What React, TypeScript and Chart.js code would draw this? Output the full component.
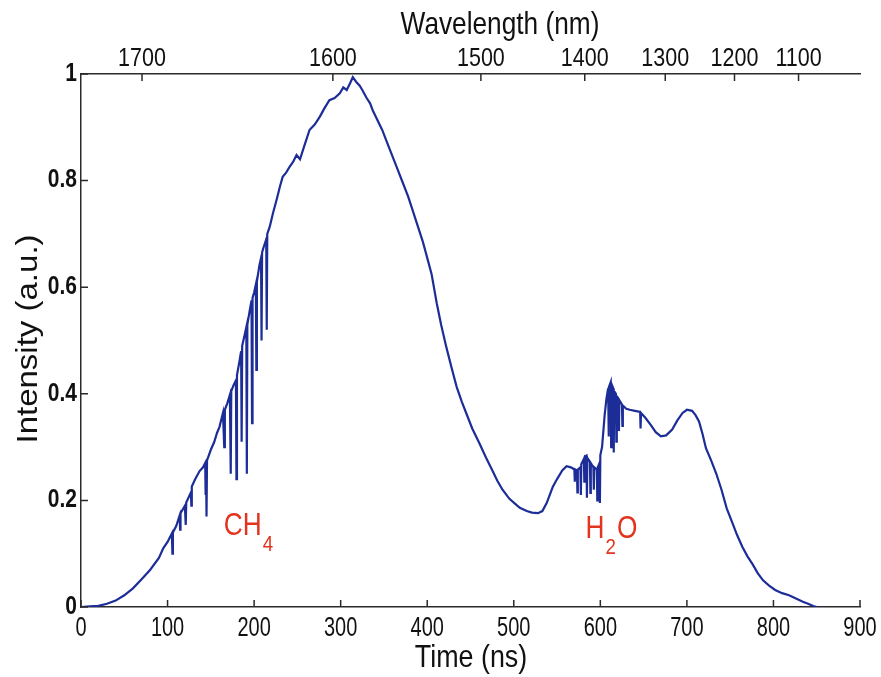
import React, { useEffect, useRef } from 'react';
import { Chart, registerables } from 'chart.js';
Chart.register(...registerables);

// ---- Data ----
const timeNs = [
  0, 10, 20, 30, 40, 50, 60, 70, 80, 90, 95, 100,
  105, 105.6, 106.2, 110, 114, 114.5, 115, 120, 121, 121.6, 127, 127.5, 128,
  132, 137, 141, 143.5, 144, 144.5, 145, 145.6, 150, 154, 157, 160,
  164, 165.5, 166.2, 169, 172, 173, 173.6, 176, 179, 179.6, 180.2,
  183, 185, 185.6, 186.2, 189, 191, 191.6, 192.2, 195, 197, 197.6, 198.2,
  200, 202, 202.6, 203.2, 206, 208, 208.6, 209.2, 211, 214, 214.6, 215.2,
  218, 222, 226, 230, 233, 237, 241, 245, 249, 253, 258, 264, 270, 276, 281,
  287, 293, 299, 303, 307, 311, 314, 318, 322, 325, 330, 334, 337, 342, 348,
  354, 360, 366, 372, 378, 383, 389, 395, 400, 405, 411, 416, 422, 428, 434,
  440, 445, 452, 460, 468, 475, 481, 487, 495, 502, 507, 515, 521, 528, 533,
  538, 545, 550, 556, 561, 566, 570, 570.5, 571, 573, 573.5, 574, 577, 577.5,
  578, 581, 581.5, 582, 584, 584.5, 585, 588, 588.5, 589, 592, 592.5, 593,
  596, 596.5, 597, 599, 599.5, 600, 602, 605, 607, 609, 609.5, 610, 612,
  612.5, 613, 615, 615.5, 616, 618, 618.5, 619, 621, 621.5, 622, 625, 625.5,
  626, 630, 634, 640, 646, 646.5, 647, 652, 658, 664, 670, 676, 683, 689,
  695, 700, 706, 710, 714, 718, 722, 728, 734, 740, 746, 752, 758, 764, 770,
  776, 782, 788, 795, 802, 810, 818, 826, 834, 840, 846, 850,
];
const intensity = [
  0, 0.001, 0.002, 0.006, 0.012, 0.022, 0.035, 0.052, 0.07, 0.092, 0.11, 0.122,
  0.138, 0.1, 0.14, 0.152, 0.172, 0.145, 0.176, 0.19, 0.154, 0.196, 0.215, 0.19, 0.226,
  0.24, 0.255, 0.262, 0.27, 0.21, 0.265, 0.17, 0.275, 0.295, 0.31, 0.326, 0.338,
  0.364, 0.3, 0.37, 0.382, 0.398, 0.25, 0.405, 0.415, 0.425, 0.24, 0.435,
  0.46, 0.48, 0.31, 0.49, 0.51, 0.525, 0.25, 0.53, 0.557, 0.575, 0.345, 0.58,
  0.59, 0.605, 0.445, 0.61, 0.64, 0.655, 0.5, 0.665, 0.675, 0.69, 0.52, 0.7,
  0.713, 0.74, 0.764, 0.79, 0.807, 0.815, 0.826, 0.835, 0.848, 0.84, 0.865, 0.895, 0.905, 0.92, 0.935,
  0.951, 0.955, 0.964, 0.975, 0.97, 0.983, 0.994, 0.985, 0.978, 0.97, 0.955, 0.945, 0.932, 0.915, 0.895,
  0.87, 0.845, 0.82, 0.795, 0.77, 0.745, 0.715, 0.685, 0.655, 0.625, 0.57, 0.53, 0.488, 0.45, 0.413,
  0.385, 0.364, 0.335, 0.308, 0.28, 0.257, 0.237, 0.22, 0.203, 0.193, 0.186, 0.18, 0.177, 0.176, 0.18,
  0.195, 0.225, 0.24, 0.256, 0.264, 0.262, 0.258, 0.235, 0.258, 0.256, 0.215, 0.258, 0.262, 0.21,
  0.268, 0.278, 0.235, 0.282, 0.284, 0.205, 0.28, 0.272, 0.214, 0.27, 0.262, 0.22, 0.262,
  0.258, 0.2, 0.262, 0.27, 0.195, 0.285, 0.3, 0.36, 0.39, 0.41, 0.32, 0.412, 0.422,
  0.3, 0.418, 0.41, 0.29, 0.405, 0.4, 0.31, 0.395, 0.39, 0.33, 0.388, 0.38, 0.34,
  0.378, 0.372, 0.37, 0.368, 0.366, 0.335, 0.364, 0.355, 0.342, 0.328, 0.32, 0.322, 0.333, 0.35,
  0.364, 0.37, 0.368, 0.36, 0.348, 0.325, 0.298, 0.275, 0.25, 0.22, 0.185, 0.16, 0.135, 0.113, 0.095,
  0.08, 0.063, 0.05, 0.04, 0.032, 0.026, 0.022, 0.016, 0.01, 0.006, 0.002, 0,
];
const timeTicks = [0, 100, 200, 300, 400, 500, 600, 700, 800, 900];
const intensityTicks = [0, 0.2, 0.4, 0.6, 0.8, 1];
const intensityTickLabels = ['0', '0.2', '0.4', '0.6', '0.8', '1'];
const wavelengthLabels = ['1700', '1600', '1500', '1400', '1300', '1200', '1100'];
const wavelengthTickTimes = [70.5, 291, 462, 582, 675, 755, 829];
const speciesLabels = [
  { main: 'CH', sub: '4', tail: '', t: 165, v: 0.135 },
  { main: 'H', sub: '2', tail: 'O', t: 583, v: 0.13 },
];

const FONT = "'Liberation Sans', Arial, Helvetica, sans-serif";
const AXIS = '#2a2a2a';

function drawText(
  ctx: CanvasRenderingContext2D,
  text: string,
  x: number,
  y: number,
  size: number,
  sx: number,
  align: CanvasTextAlign,
  baseline: CanvasTextBaseline,
  weight = 'normal',
  rotate = 0,
) {
  ctx.save();
  ctx.translate(x, y);
  if (rotate) ctx.rotate(rotate);
  ctx.scale(sx, 1);
  ctx.font = `${weight} ${size}px ${FONT}`;
  ctx.textAlign = align;
  ctx.textBaseline = baseline;
  ctx.fillText(text, 0, 0);
  ctx.restore();
}

const decorPlugin = {
  id: 'decor',
  afterDraw(chart: any) {
    const ctx = chart.ctx as CanvasRenderingContext2D;
    const { x, x2, y } = chart.scales;
    const area = chart.chartArea;
    const TL = 7;
    ctx.save();
    ctx.strokeStyle = AXIS;
    ctx.lineWidth = 1.5;
    ctx.beginPath();
    timeTicks.forEach((v) => {
      const px = x.getPixelForValue(v);
      ctx.moveTo(px, area.bottom);
      ctx.lineTo(px, area.bottom - TL);
    });
    wavelengthTickTimes.forEach((v) => {
      const px = x2.getPixelForValue(v);
      ctx.moveTo(px, area.top);
      ctx.lineTo(px, area.top + TL);
    });
    intensityTicks.forEach((v) => {
      const py = y.getPixelForValue(v);
      ctx.moveTo(area.left, py);
      ctx.lineTo(area.left + TL, py);
    });
    ctx.stroke();

    ctx.fillStyle = '#111';
    // tick labels
    timeTicks.forEach((v) => {
      drawText(ctx, String(v), x.getPixelForValue(v), area.bottom + 22, 27, 0.74, 'center', 'middle');
    });
    wavelengthTickTimes.forEach((v, i) => {
      drawText(ctx, wavelengthLabels[i], x2.getPixelForValue(v), area.top - 15, 25, 0.86, 'center', 'middle');
    });
    intensityTicks.forEach((v, i) => {
      drawText(ctx, intensityTickLabels[i], area.left - 4, y.getPixelForValue(v), 25, 0.84, 'right', 'middle', 'bold');
    });

    // axis titles
    drawText(ctx, 'Time (ns)', 471, 658, 32, 0.84, 'center', 'middle');
    drawText(ctx, 'Wavelength (nm)', 500, 25, 32, 0.82, 'center', 'middle');
    ctx.save();
    ctx.translate(29, 339);
    ctx.rotate(-Math.PI / 2);
    ctx.scale(1.1, 1);
    ctx.font = `30px ${FONT}`;
    ctx.textAlign = 'center';
    ctx.textBaseline = 'middle';
    ctx.fillText('Intensity (a.u.)', 0, 0);
    ctx.restore();

    // species annotations
    ctx.fillStyle = '#e2341f';
    speciesLabels.forEach((s) => {
      let px = x.getPixelForValue(s.t);
      const py = y.getPixelForValue(s.v);
      const mainSx = 0.82;
      ctx.font = `32px ${FONT}`;
      const wMain = ctx.measureText(s.main).width * mainSx;
      drawText(ctx, s.main, px, py, 32, mainSx, 'left', 'alphabetic');
      px += wMain + 1;
      ctx.font = `22px ${FONT}`;
      const wSub = ctx.measureText(s.sub).width * 0.85;
      drawText(ctx, s.sub, px, py + 16, 22, 0.85, 'left', 'alphabetic');
      px += wSub + 1;
      if (s.tail) drawText(ctx, s.tail, px, py, 32, mainSx, 'left', 'alphabetic');
    });
    ctx.restore();
  },
};

export default function App() {
  const ref = useRef<HTMLCanvasElement>(null);
  useEffect(() => {
    if (!ref.current) return;
    const hidden = { display: false };
    const chart = new Chart(ref.current, {
      type: 'line',
      data: {
        datasets: [
          {
            data: timeNs.map((t, i) => ({ x: t, y: intensity[i] })),
            borderColor: '#1d2d98',
            borderWidth: 2.2,
            pointRadius: 0,
            tension: 0,
            fill: false,
            xAxisID: 'x',
            yAxisID: 'y',
          },
        ],
      },
      options: {
        animation: false,
        responsive: false,
        devicePixelRatio: 1,
        layout: { padding: { right: 21, left: 0, top: 0, bottom: 0 } },
        plugins: { legend: { display: false }, tooltip: { enabled: false } },
        scales: {
          x: {
            type: 'linear',
            position: 'bottom',
            min: 0,
            max: 900,
            afterBuildTicks: (s: any) => {
              s.ticks = timeTicks.map((v) => ({ value: v }));
            },
            afterFit: (s: any) => {
              s.height = 70;
            },
            ticks: hidden,
            grid: { drawOnChartArea: false, drawTicks: false },
            border: { color: AXIS, width: 1.5 },
          },
          x2: {
            type: 'linear',
            position: 'top',
            min: 0,
            max: 900,
            afterBuildTicks: (s: any) => {
              s.ticks = wavelengthTickTimes.map((v) => ({ value: v }));
            },
            afterFit: (s: any) => {
              s.height = 74;
            },
            ticks: hidden,
            grid: { drawOnChartArea: false, drawTicks: false },
            border: { color: AXIS, width: 1.5 },
          },
          y: {
            type: 'linear',
            position: 'left',
            min: 0,
            max: 1,
            afterBuildTicks: (s: any) => {
              s.ticks = intensityTicks.map((v) => ({ value: v }));
            },
            afterFit: (s: any) => {
              s.width = 81;
            },
            ticks: hidden,
            grid: { drawOnChartArea: false, drawTicks: false },
            border: { color: AXIS, width: 1.5 },
          },
        },
      },
      plugins: [decorPlugin],
    } as any);
    return () => chart.destroy();
  }, []);
  return (
    <div style={{ position: 'absolute', left: 0, top: 0, width: 881, height: 677, background: '#fff' }}>
      <canvas ref={ref} width={881} height={677} style={{ display: 'block', width: 881, height: 677 }} />
    </div>
  );
}
